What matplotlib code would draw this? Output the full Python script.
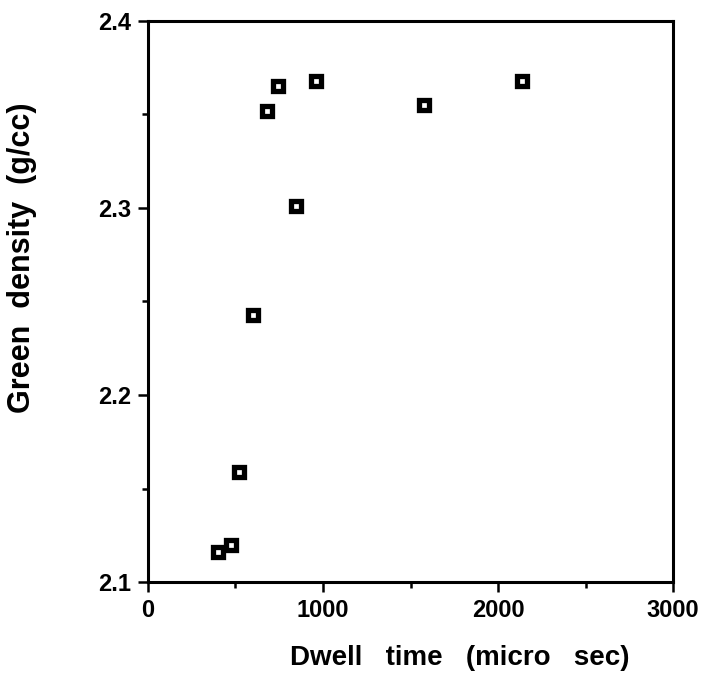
import matplotlib.pyplot as plt
from matplotlib.ticker import MultipleLocator

plt.rcParams['font.family'] = ['Liberation Sans', 'DejaVu Sans']
plt.rcParams['font.weight'] = 'bold'

dwell_time = [400, 474, 520, 602, 682, 743, 846, 958, 1575, 2139]
green_density = [2.116, 2.120, 2.159, 2.243, 2.352, 2.365, 2.301, 2.368, 2.355, 2.368]

x_ticks = [0, 1000, 2000, 3000]
y_ticks = [2.1, 2.2, 2.3, 2.4]


def main():
    fig = plt.figure(figsize=(7.04, 6.90), dpi=100)
    ax = fig.add_axes([0.2102, 0.1565, 0.7458, 0.8131])

    ax.plot(dwell_time, green_density, linestyle='none', marker='s',
            markersize=7.4, markerfacecolor='white', markeredgecolor='black',
            markeredgewidth=3.8)

    ax.set_xlim(0, 3000)
    ax.set_ylim(2.1, 2.4)
    ax.set_xticks(x_ticks)
    ax.set_yticks(y_ticks)
    ax.set_yticklabels(['%.1f' % v for v in y_ticks])
    ax.xaxis.set_minor_locator(MultipleLocator(500))
    ax.yaxis.set_minor_locator(MultipleLocator(0.05))

    for s in ax.spines.values():
        s.set_linewidth(2.2)
    ax.tick_params(which='major', direction='out', length=7, width=1.8,
                   labelsize=17, pad=5)
    ax.tick_params(which='minor', direction='out', length=4, width=1.8)

    ax.set_xlabel('Dwell   time   (micro   sec)', fontsize=20, fontweight='bold')
    ax.set_ylabel('Green  density  (g/cc)', fontsize=22, fontweight='bold')
    # labels sit off-centre in the original
    ax.xaxis.set_label_coords(0.594, -0.112)
    ax.yaxis.set_label_coords(-0.212, 0.578)

    fig.savefig('out.png', dpi=100)


if __name__ == '__main__':
    main()
